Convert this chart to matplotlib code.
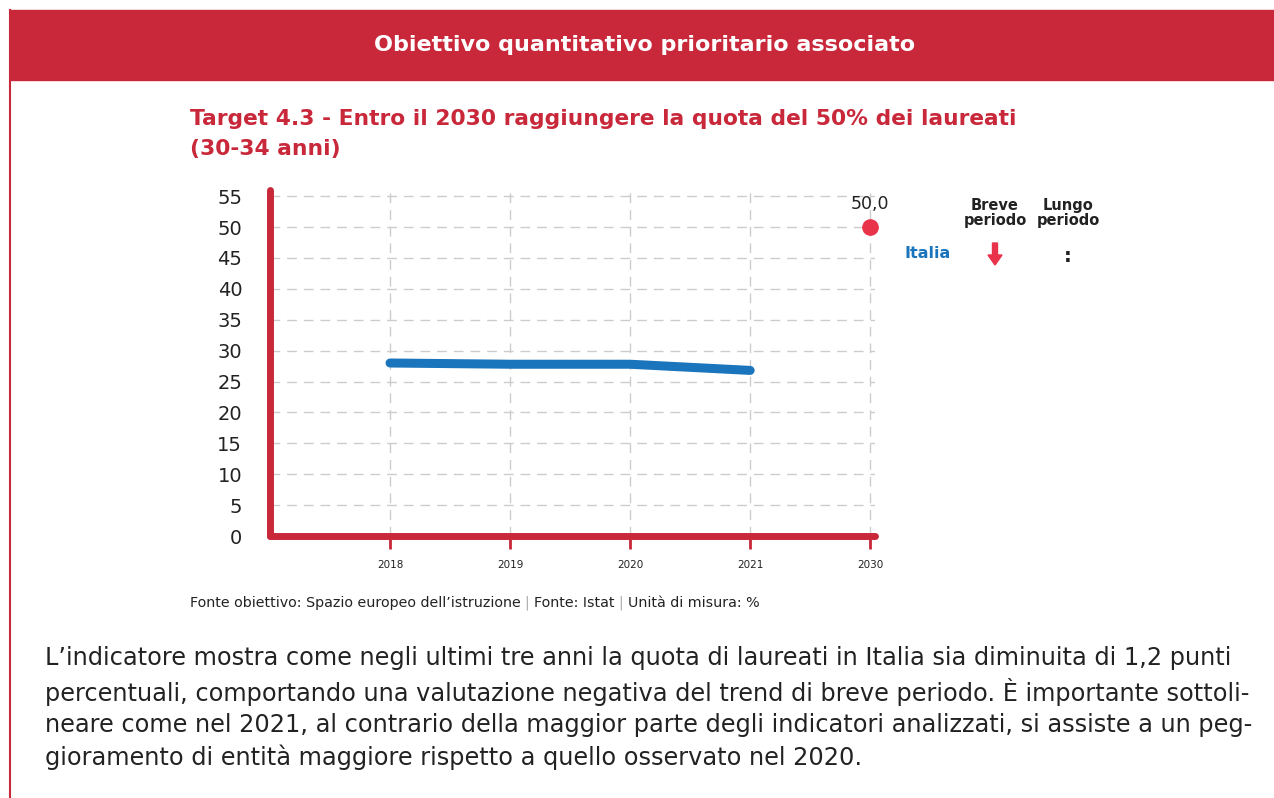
import matplotlib.pyplot as plt
import matplotlib.patches as mpatches
import numpy as np

# dati
anni = ['2018', '2019', '2020', '2021', '2030']
italia = [28.0, 27.8, 27.8, 26.8]
target_valore = 50.0
y_ticks = list(range(0, 60, 5))

ROSSO = '#c8283a'
ROSSO_PUNTO = '#e8334a'
BLU = '#1a75bc'
GRIGIO = '#cccccc'
NERO = '#222222'

plt.rcParams['font.family'] = ['DejaVu Sans']

W, H = 1274, 798
fig = plt.figure(figsize=(W / 100, H / 100), dpi=100)


def fx(px):
    return px / W


def fy(py):
    return 1 - py / H


# intestazione
fig.patches.append(mpatches.Rectangle((fx(10), fy(80)), fx(W - 10), 70 / H,
                                      transform=fig.transFigure, color=ROSSO, zorder=0))
fig.lines.append(plt.Line2D([fx(10), fx(10)], [fy(10), fy(798)], transform=fig.transFigure,
                            color=ROSSO, lw=1.5))
fig.text(fx(645), fy(45), 'Obiettivo quantitativo prioritario associato', color='white',
         fontsize=16, fontweight='bold', ha='center', va='center')

# titolo
fig.text(fx(190), fy(134), 'Target 4.3 - Entro il 2030 raggiungere la quota del 50% dei laureati\n(30-34 anni)',
         color=ROSSO, fontsize=15.7, fontweight='bold', ha='left', va='center', linespacing=1.65)

# grafico
ax = fig.add_axes([fx(270), fy(536), fx(875 - 270), (536 - 190) / H])
x = np.arange(len(anni))
ax.set_xlim(-1, 4.04)
ax.set_ylim(0, 56)

ax.plot(x[:len(italia)], italia, color=BLU, lw=6.5, solid_capstyle='round', solid_joinstyle='round', zorder=3)
ax.plot(x[-1], target_valore, 'o', color=ROSSO_PUNTO, markersize=11, zorder=4, clip_on=False)
ax.text(x[-1], target_valore + 2.3, f'{target_valore:.1f}'.replace('.', ','), ha='center', va='bottom',
        fontsize=12.5, color=NERO)

for s in ['top', 'right']:
    ax.spines[s].set_visible(False)
for s in ['left', 'bottom']:
    ax.spines[s].set_color(ROSSO)
    ax.spines[s].set_linewidth(5)
    ax.spines[s].set_capstyle('round')

ax.set_yticks(y_ticks)
ax.set_yticklabels([str(v) for v in y_ticks], fontsize=14, color=NERO)
ax.tick_params(axis='y', length=0, pad=20)
ax.set_xticks(x)
ax.set_xticklabels(anni, fontsize=7.5, color=NERO)
ax.tick_params(axis='x', length=9, width=2, color=ROSSO, direction='out', pad=8)

ax.grid(True, color=GRIGIO, lw=1, ls=(0, (7, 5)))
ax.set_axisbelow(True)

# legenda a destra
fig.text(fx(995), fy(213), 'Breve\nperiodo', fontsize=10.5, fontweight='bold', ha='center', va='center',
         linespacing=0.95, color=NERO)
fig.text(fx(1068), fy(213), 'Lungo\nperiodo', fontsize=10.5, fontweight='bold', ha='center', va='center',
         linespacing=0.95, color=NERO)
fig.text(fx(928), fy(254), 'Italia', fontsize=11.5, fontweight='bold', ha='center', va='center', color=BLU)
fig.patches.append(mpatches.FancyArrow(fx(995), fy(243), 0, -22 / H, width=5 / W, head_width=14 / W,
                                       head_length=10 / H, length_includes_head=True,
                                       transform=fig.transFigure, color=ROSSO_PUNTO))
fig.text(fx(1068), fy(256), ':', fontsize=14, fontweight='bold', ha='center', va='center', color=NERO)

# fonte (separatori in grigio)
parti = [('Fonte obiettivo: Spazio europeo dell\u2019istruzione ', NERO), ('| ', '#aaaaaa'),
         ('Fonte: Istat ', NERO), ('| ', '#aaaaaa'), ('Unit\u00e0 di misura: %', NERO)]
renderer = fig.canvas.get_renderer()
xpos = 190
for testo_parte, col in parti:
    t = fig.text(fx(xpos), fy(603), testo_parte, fontsize=10.3, ha='left', va='center', color=col)
    xpos += t.get_window_extent(renderer).width

# testo
testo = ('L\u2019indicatore mostra come negli ultimi tre anni la quota di laureati in Italia sia diminuita di 1,2 punti\n'
         'percentuali, comportando una valutazione negativa del trend di breve periodo. \u00c8 importante sottoli-\n'
         'neare come nel 2021, al contrario della maggior parte degli indicatori analizzati, si assiste a un peg-\n'
         'gioramento di entit\u00e0 maggiore rispetto a quello osservato nel 2020.')
fig.text(fx(45), fy(708), testo, fontsize=17.3, ha='left', va='center', linespacing=1.37, color=NERO)

fig.savefig('out.png', dpi=100)
